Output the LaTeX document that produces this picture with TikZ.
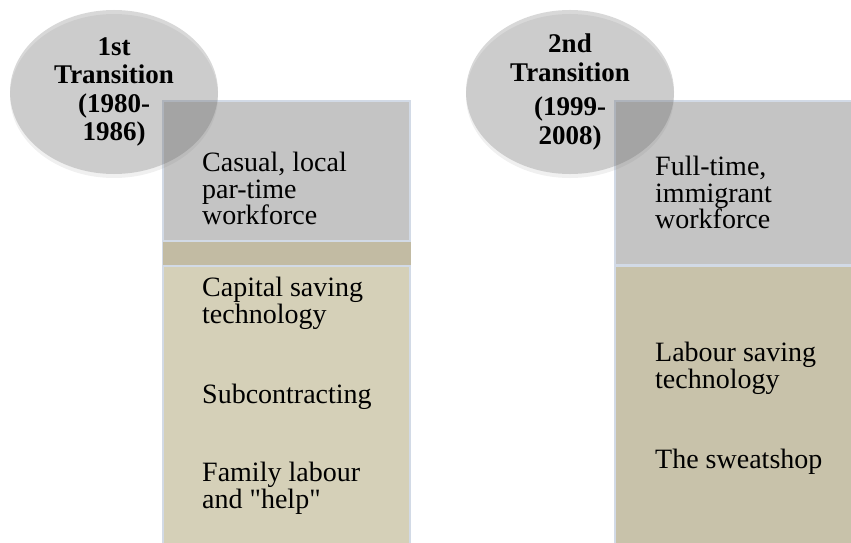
\documentclass[tikz,border=0pt]{standalone}
\usepackage{fontspec}
\setmainfont{Liberation Serif}[Ligatures=TeXOff]
\usetikzlibrary{shapes.geometric,shadows}
\definecolor{boxgray}{HTML}{C4C4C4}
\definecolor{bandtan}{HTML}{C2BBA3}
\definecolor{lighttan}{HTML}{D5D0B8}
\definecolor{darktan}{HTML}{C8C2AA}
\definecolor{edgeblue}{HTML}{D2DAE6}
\begin{document}
\begin{tikzpicture}[x=1pt,y=-1pt,
    block/.style={draw=edgeblue, line width=1.5pt, anchor=north west, inner sep=0pt},
    period/.style={ellipse, fill=black!63, fill opacity=0.24, text opacity=1,
        minimum width=208pt, minimum height=164pt, inner sep=0pt, align=center,
        font=\fontsize{27}{28.5}\selectfont\bfseries,
        drop shadow={opacity=0.12, shadow xshift=0pt, shadow yshift=-4pt}},
    item/.style={anchor=north west, inner sep=0pt, align=left,
        font=\fontsize{28}{26.5}\selectfont}]
    \useasboundingbox (0,0) rectangle (851,543);
    % first transition
    \node[block, fill=boxgray, minimum width=247pt, minimum height=140pt] (work1) at (162,100) {};
    \node[block, fill=bandtan, minimum width=247pt, minimum height=24pt] (band1) at (162,241) {};
    \node[block, fill=lighttan, minimum width=247pt, minimum height=280pt] (tech1) at (162,265) {};
    \fill[bandtan] (band1.north west) ++(0.75,0.75) rectangle (tech1.north east);
    \node[period] (trans1) at (114,92) {1st\\Transition\\(1980-\\1986)};
    \node[item] (casual) at (202,152) {Casual, local\\par-time\\workforce};
    \node[item] (capital) at (202,277) {Capital saving\\technology};
    \node[item] (subcon) at (202,384) {Subcontracting};
    \node[item] (family) at (202,462) {Family labour\\and "help"};
    % second transition
    \node[block, fill=boxgray, minimum width=240pt, minimum height=164pt] (work2) at (614,100) {};
    \node[block, fill=darktan, minimum width=240pt, minimum height=280pt] (tech2) at (614,265) {};
    \node[period] (trans2) at (570,92) {2nd\\Transition\\[6pt](1999-\\2008)};
    \node[item] (fulltime) at (655,156) {Full-time,\\immigrant\\workforce};
    \node[item] (labour) at (655,342) {Labour saving\\technology};
    \node[item] (sweat) at (655,449) {The sweatshop};
\end{tikzpicture}
\end{document}
